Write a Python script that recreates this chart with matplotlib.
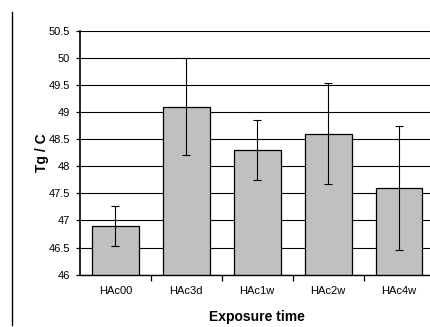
import matplotlib
matplotlib.use('Agg')
import matplotlib.pyplot as plt
from matplotlib.lines import Line2D

# Data
samples = ['HAc00', 'HAc3d', 'HAc1w', 'HAc2w', 'HAc4w']
tg = [46.9, 49.1, 48.3, 48.6, 47.6]
tg_err = [0.37, 0.9, 0.55, 0.93, 1.15]
yticks = [46, 46.5, 47, 47.5, 48, 48.5, 49, 49.5, 50, 50.5]

plt.rcParams['font.family'] = ['Liberation Sans', 'DejaVu Sans']

W, H = 431, 327
fig = plt.figure(figsize=(W / 100, H / 100), dpi=100)
# plot area runs past the right edge, as in the original screenshot
ax = fig.add_axes([80 / W, (H - 274.7) / H, 354.5 / W, 244 / H])

x = list(range(len(samples)))
ax.bar(x, tg, width=0.66, color='#c0c0c0', edgecolor='black', linewidth=0.9, zorder=2)
ax.errorbar(x, tg, yerr=tg_err, fmt='none', ecolor='black', elinewidth=0.8,
            capsize=3, capthick=0.8, zorder=3)

ax.set_ylim(46, 50.5)
ax.set_xlim(-0.5, len(samples) - 0.5)
ax.set_yticks(yticks)
ax.set_yticklabels([f'{v:g}' for v in yticks])
ax.yaxis.grid(True, color='black', linewidth=0.8, zorder=0)
ax.set_axisbelow(True)

ax.set_xticks([i + 0.5 for i in x[:-1]])
ax.set_xticklabels([])
ax.set_xticks(x, minor=True)
ax.set_xticklabels(samples, minor=True)
ax.tick_params(axis='x', which='major', length=4, width=0.9, direction='out')
ax.tick_params(axis='x', which='minor', length=0, pad=8, labelsize=8)
ax.tick_params(axis='y', length=3, width=0.9, direction='out', pad=4, labelsize=8)

for s in ['top', 'right']:
    ax.spines[s].set_visible(False)
ax.spines['left'].set_linewidth(1.2)
ax.spines['bottom'].set_linewidth(1.0)

ax.set_ylabel('Tg / C', fontsize=10, fontweight='bold', labelpad=0)
ax.set_xlabel('Exposure time', fontsize=10, fontweight='bold', labelpad=10)

# frame line on the left of the screenshot
fig.add_artist(Line2D([12 / W, 12 / W], [2 / H, 315 / H], color='black', linewidth=1.0))

fig.savefig('out.png', dpi=100)
